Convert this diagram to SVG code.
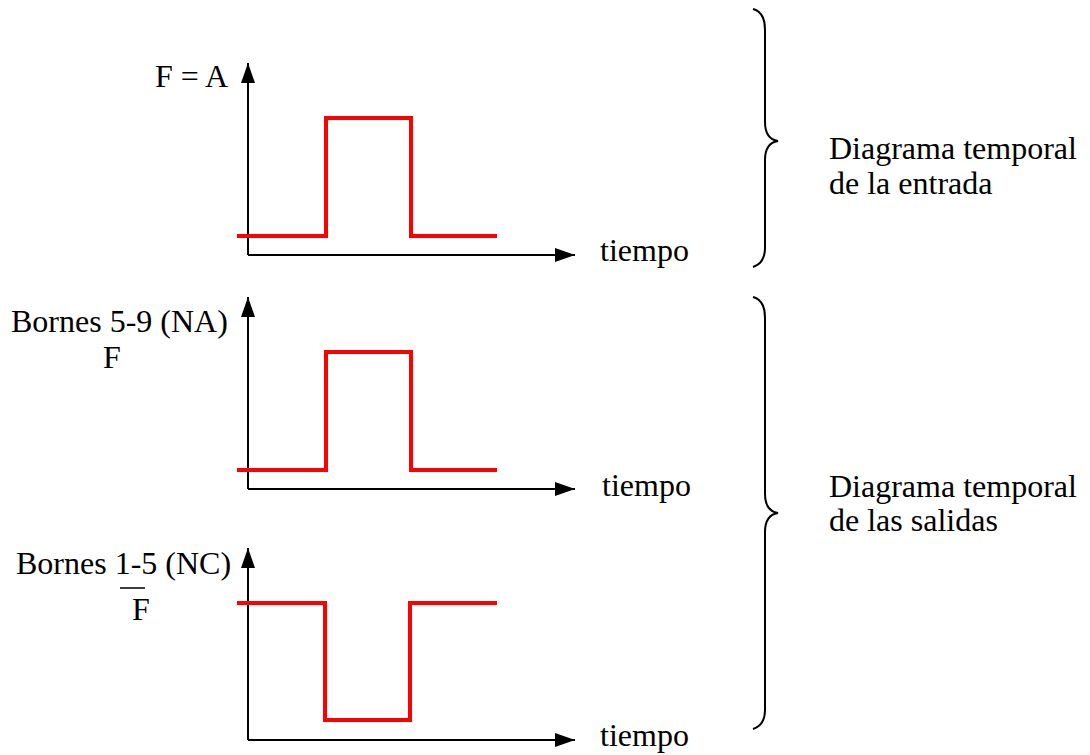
<svg xmlns="http://www.w3.org/2000/svg" width="1090" height="755" viewBox="0 0 1090 755">
<defs>
<marker id="ah" markerWidth="20" markerHeight="14" refX="20" refY="7" orient="auto" markerUnits="userSpaceOnUse">
<path d="M0,0 L20,7 L0,14 Z" fill="#000"/>
</marker>
<style>
text{font-family:"Liberation Serif","Times New Roman",serif;font-size:32px;fill:#000}
.ax{stroke:#000;stroke-width:2;fill:none;marker-end:url(#ah)}
.sig{stroke:#ff0000;stroke-width:4;fill:none}
.br{stroke:#000;stroke-width:2;fill:none}
</style>
</defs>
<rect width="1090" height="755" fill="#fff"/>
<g id="chart1">
<text x="155" y="87">F = A</text>
<text x="600" y="261">tiempo</text>
</g>
<g id="chart2">
<text x="11" y="332">Bornes 5-9 (NA)</text>
<text x="103" y="368">F</text>
<text x="602" y="496">tiempo</text>
</g>
<g id="chart3">
<text x="16" y="574">Bornes 1-5 (NC)</text>
<line x1="120" y1="588" x2="145" y2="588" stroke="#000" stroke-width="1.5"/>
<text x="132" y="620">F</text>
<text x="600" y="746">tiempo</text>
</g>
<g id="connectors">
<polyline class="ax" points="248,255 248,63"/>
<polyline class="ax" points="248,255 575,255"/>
<polyline class="sig" points="237,236 326,236 326,118 411,118 411,236 497,236"/>
<polyline class="ax" points="248,489 248,297"/>
<polyline class="ax" points="248,489 575,489"/>
<polyline class="sig" points="237,470 326,470 326,352 411,352 411,470 497,470"/>
<polyline class="ax" points="248,740 248,548"/>
<polyline class="ax" points="248,740 575,740"/>
<polyline class="sig" points="237,603 325,603 325,720 410,720 410,603 497,603"/>
</g>
<g id="brace1">
<path class="br" d="M753,9 Q765,12 765,30 L765,122 Q765,139 778,141 Q765,143 765,160 L765,248 Q765,263 753,267"/>
<text x="829" y="159">Diagrama temporal</text>
<text x="829" y="194">de la entrada</text>
</g>
<g id="brace2">
<path class="br" d="M753,297 Q765,300 765,318 L765,494 Q765,511 778,513 Q765,515 765,532 L765,710 Q765,725 753,729"/>
<text x="829" y="497">Diagrama temporal</text>
<text x="829" y="531">de las salidas</text>
</g>
</svg>
